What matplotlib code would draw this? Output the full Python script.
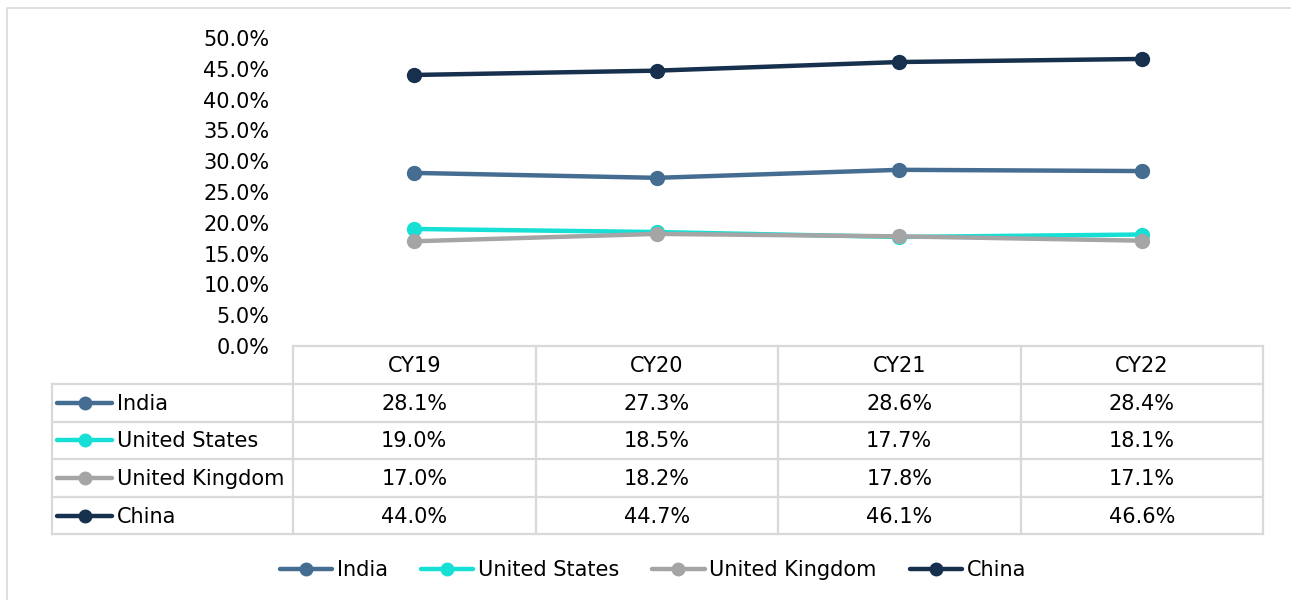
import matplotlib
matplotlib.use("Agg")
import matplotlib.pyplot as plt
from matplotlib.lines import Line2D

categories = ["CY19", "CY20", "CY21", "CY22"]
series_names = ["India", "United States", "United Kingdom", "China"]
india = [0.281, 0.273, 0.286, 0.284]
united_states = [0.190, 0.185, 0.177, 0.181]
united_kingdom = [0.170, 0.182, 0.178, 0.171]
china = [0.440, 0.447, 0.461, 0.466]
series_values = [india, united_states, united_kingdom, china]
colors = ["#456D91", "#16DFD5", "#A5A5A5", "#17304E"]
yticks = [0.0, 0.05, 0.10, 0.15, 0.20, 0.25, 0.30, 0.35, 0.40, 0.45, 0.50]

W, H = 1291, 600
fig = plt.figure(figsize=(W / 100, H / 100), dpi=100)
FS = 15
plt.rcParams["font.family"] = "DejaVu Sans"

# outer border
bg = fig.add_axes([0, 0, 1, 1])
bg.set_xlim(0, W)
bg.set_ylim(H, 0)
bg.axis("off")
bg.plot([7, 7, 1290], [600, 8, 8], color="#D9D9D9", lw=1.2, clip_on=False)

# main plot area in pixels
L, R, T, B = 293, 1263, 38, 346
ax = fig.add_axes([L / W, 1 - B / H, (R - L) / W, (B - T) / H])
ax.set_xlim(-0.5, len(categories) - 0.5)
ax.set_ylim(0, 0.5)
for vals, c, n in zip(series_values, colors, series_names):
    ax.plot(range(len(categories)), vals, color=c, lw=3.2, marker="o",
            markersize=10, solid_capstyle="round", label=n, clip_on=False)
for s in ax.spines.values():
    s.set_visible(False)
ax.set_xticks([])
ax.set_yticks(yticks)
ax.set_yticklabels([f"{v*100:.1f}%" for v in yticks], fontsize=FS)
ax.tick_params(axis="y", length=0, pad=17)
ax.patch.set_alpha(0)

# data table
gc = "#D9D9D9"
glw = 1.6
row_h = 37.6
hdr_top, hdr_bot = 346, 384
tbl_left = 52
col_w = (R - L) / len(categories)
bg.plot([L, R], [hdr_top, hdr_top], color=gc, lw=glw)
for i in range(len(categories) + 1):
    x = L + i * col_w
    bg.plot([x, x], [hdr_top, hdr_bot + row_h * len(series_names)], color=gc, lw=glw)
bg.plot([tbl_left, tbl_left], [hdr_bot, hdr_bot + row_h * len(series_names)], color=gc, lw=glw)
for j in range(len(series_names) + 1):
    y = hdr_bot + j * row_h
    bg.plot([tbl_left, R], [y, y], color=gc, lw=glw)
for i, cat in enumerate(categories):
    bg.text(L + (i + 0.5) * col_w, (hdr_top + hdr_bot) / 2 + 1, cat, ha="center", va="center",
            fontsize=FS)
for j, (n, vals, c) in enumerate(zip(series_names, series_values, colors)):
    yc = hdr_bot + (j + 0.5) * row_h
    bg.plot([57, 112], [yc, yc], color=c, lw=3.2, solid_capstyle="round")
    bg.plot([85], [yc], marker="o", color=c, markersize=9)
    bg.text(117, yc + 1, n, ha="left", va="center", fontsize=FS)
    for i, v in enumerate(vals):
        bg.text(L + (i + 0.5) * col_w, yc + 1, f"{v*100:.1f}%", ha="center", va="center",
                fontsize=FS)

# legend
handles = [Line2D([0], [0], color=c, lw=3.2, marker="o", markersize=9, solid_capstyle="round")
           for c in colors]
fig.legend(handles, series_names, loc="center", bbox_to_anchor=(653 / W, 1 - 570 / H),
           ncol=4, frameon=False, handlelength=2.5, handletextpad=0.22, columnspacing=1.6,
           prop={"family": "DejaVu Sans", "size": FS})

fig.savefig("out.png", dpi=100)
